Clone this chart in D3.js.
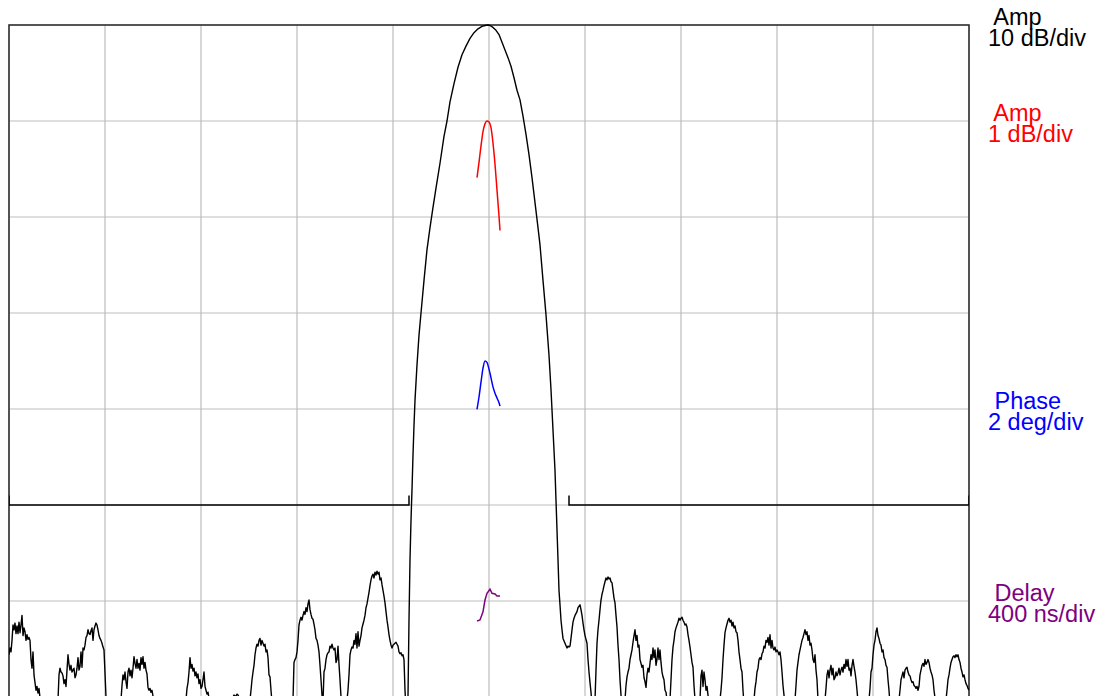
<!DOCTYPE html>
<html>
<head>
<meta charset="utf-8">
<script src="https://cdn.jsdelivr.net/npm/d3@7"></script>
<style>
body { margin: 0; background: #fff; }
svg { display: block; }
text { font-family: "Liberation Sans", Arial, sans-serif; }
</style>
</head>
<body>
<script>
// sweep: 0.01 MHz per point, frequency as offset from centre
var sweepStepMHz = 0.01;

// stopband, left of passband (starts at -4.80 MHz)
var leftSweepStartMHz = -4.80;
var leftSidelobesDb = [
  -65.6,-64.9,-65.3,-64.1,-62.5,-63.0,-62.3,-63.4,-62.6,-63.4,
  -62.2,-63.3,-62.5,-61.5,-63.6,-62.8,-63.2,-64.1,-63.5,-64.0,
  -63.8,-64.1,-66.1,-67.0,-65.3,-67.7,-68.5,-69.3,-68.9,-69.6,
  -69.1,-70.1,-70.8,-71.4,-72.0,-72.4,-72.8,-72.6,-72.2,-71.8,
  -71.6,-71.9,-72.4,-73.0,-73.4,-72.9,-72.2,-71.6,-70.9,-70.3,
  -67.7,-67.0,-67.4,-67.5,-67.8,-68.6,-68.2,-68.9,-67.2,-65.6,
  -66.6,-67.2,-66.7,-67.4,-67.2,-67.0,-68.0,-67.7,-67.0,-65.9,
  -67.2,-66.8,-65.3,-66.9,-64.9,-65.1,-64.6,-63.8,-63.6,-63.0,
  -63.4,-63.5,-63.1,-62.8,-64.1,-63.0,-62.6,-62.3,-62.5,-63.0,
  -63.6,-63.9,-64.1,-64.4,-64.8,-65.1,-67.5,-70.0,-70.8,-71.6,
  -72.2,-72.6,-73.0,-73.4,-73.6,-73.4,-73.0,-72.4,-71.9,-71.4,
  -70.9,-70.5,-70.3,-68.8,-67.7,-68.2,-67.4,-68.4,-69.1,-67.4,
  -67.0,-67.8,-67.2,-68.0,-67.0,-65.8,-66.5,-67.0,-66.1,-67.0,
  -66.5,-67.2,-65.9,-66.6,-65.8,-67.0,-66.4,-67.2,-67.6,-69.0,
  -69.3,-69.1,-69.5,-69.3,-69.9,-70.8,-71.6,-72.2,-72.6,-73.0,
  -73.4,-73.9,-74.1,-74.0,-73.6,-73.2,-73.0,-72.8,-73.2,-73.6,
  -73.9,-73.4,-73.0,-72.6,-72.2,-72.0,-72.2,-72.6,-72.4,-72.0,
  -71.6,-71.4,-71.1,-70.9,-70.7,-70.5,-70.4,-70.3,-69.1,-68.5,
  -67.4,-65.9,-67.0,-66.6,-67.3,-67.0,-67.8,-67.4,-68.0,-67.6,
  -68.6,-68.2,-69.1,-68.9,-68.2,-67.4,-68.9,-69.3,-69.7,-69.5,
  -70.1,-70.8,-71.4,-71.8,-72.0,-71.8,-71.6,-71.1,-70.8,-70.5,
  -70.5,-70.7,-70.9,-71.0,-70.9,-70.7,-70.5,-70.4,-70.3,-70.2,
  -70.2,-70.1,-70.0,-70.1,-70.0,-69.8,-69.9,-69.9,-69.7,-69.8,
  -70.0,-70.0,-70.5,-70.9,-71.4,-71.6,-71.8,-71.6,-71.1,-70.7,
  -70.5,-70.3,-69.3,-68.2,-67.4,-66.7,-65.6,-64.9,-64.5,-64.7,
  -64.1,-63.9,-64.6,-64.1,-64.4,-64.7,-64.5,-65.3,-65.1,-65.9,
  -67.7,-67.9,-69.3,-70.6,-71.4,-72.0,-72.4,-72.8,-73.0,-72.8,
  -72.4,-72.0,-71.6,-71.4,-71.1,-71.0,-70.9,-70.8,-70.7,-70.6,
  -70.5,-70.5,-70.4,-70.3,-70.3,-66.4,-66.1,-65.9,-65.3,-64.1,
  -62.5,-62.0,-61.7,-62.0,-61.5,-61.1,-61.4,-60.7,-61.1,-60.3,
  -59.9,-60.9,-61.4,-61.8,-61.9,-62.4,-63.0,-63.9,-64.1,-64.6,
  -65.3,-66.7,-68.2,-69.8,-70.5,-67.4,-67.0,-66.1,-65.6,-65.4,
  -65.3,-64.7,-64.9,-64.5,-64.9,-65.1,-64.9,-66.4,-66.1,-64.7,
  -66.6,-68.2,-70.0,-70.8,-71.4,-71.6,-71.4,-70.9,-70.3,-69.3,
  -67.7,-65.6,-65.1,-64.8,-64.9,-64.1,-64.5,-63.4,-64.9,-63.2,
  -64.7,-64.1,-63.6,-62.8,-62.4,-62.0,-61.5,-60.7,-60.3,-59.7,
  -59.1,-58.4,-57.8,-57.4,-57.2,-57.6,-57.0,-57.3,-56.9,-57.2,
  -57.0,-57.8,-57.6,-58.3,-58.9,-59.5,-60.2,-61.1,-62.0,-62.7,
  -63.5,-64.1,-64.6,-64.9,-64.6,-64.5,-64.4,-64.3,-64.5,-64.7,
  -65.3,-65.5,-65.4,-65.7,-65.6,-66.1,-69.3,-71.4,-76.6
];

// passband main lobe [MHz, dB]
var mainLobe = [
  [-0.815,-79.0],[-0.81,-69.9],[-0.80,-62.0],[-0.79,-55.7],[-0.78,-51.6],[-0.77,-48.4],
  [-0.76,-44.8],[-0.75,-41.7],[-0.74,-39.1],[-0.72,-35.4],[-0.70,-32.3],[-0.68,-30.0],
  [-0.65,-26.6],[-0.62,-23.4],[-0.59,-21.1],[-0.56,-19.0],[-0.53,-17.0],[-0.49,-14.4],
  [-0.45,-11.6],[-0.42,-10.0],[-0.39,-8.0],[-0.35,-6.1],[-0.31,-4.4],[-0.27,-3.1],
  [-0.23,-2.2],[-0.19,-1.4],[-0.15,-0.8],[-0.11,-0.4],[-0.07,-0.15],[-0.03,-0.03],
  [-0.01,0.0],[0.01,-0.05],[0.04,-0.25],[0.07,-0.55],[0.10,-1.0],[0.13,-1.8],
  [0.16,-2.6],[0.19,-3.4],[0.22,-4.3],[0.25,-5.5],[0.28,-6.8],[0.31,-7.8],
  [0.34,-9.5],[0.37,-11.4],[0.40,-13.5],[0.43,-15.9],[0.46,-18.5],[0.49,-21.1],
  [0.51,-22.9],[0.54,-26.6],[0.57,-30.2],[0.60,-34.4],[0.62,-38.0],[0.64,-42.2],
  [0.66,-46.4],[0.67,-49.5],[0.68,-52.6],[0.69,-55.7],[0.70,-58.9],[0.71,-60.4],
  [0.72,-62.0],[0.73,-63.0],[0.74,-63.9],[0.76,-64.4],[0.78,-64.9],[0.79,-64.7],
  [0.80,-64.8],[0.81,-64.7],[0.82,-63.9],[0.83,-63.0],[0.84,-62.2],[0.85,-61.8],
  [0.86,-61.5],[0.88,-61.1],[0.89,-60.7],[0.91,-60.4],[0.92,-60.9],[0.93,-61.5],
  [0.94,-62.3],[0.95,-63.0],[0.96,-63.6],[0.98,-64.4],[0.99,-66.1],[1.00,-67.4],
  [1.01,-68.5],[1.02,-69.5],[1.03,-70.8]
];

// stopband, right of passband (starts at +1.04 MHz)
var rightSweepStartMHz = 1.04;
var rightSidelobesDb = [
  -72.4,-71.6,-70.3,-67.2,-64.4,-63.0,-62.0,-60.9,-59.9,-59.3,
  -58.9,-58.4,-58.0,-57.6,-57.8,-57.5,-57.7,-57.6,-58.0,-58.1,
  -58.9,-59.7,-60.2,-61.5,-62.7,-64.6,-66.1,-68.2,-69.8,-71.1,
  -72.4,-71.6,-70.3,-68.8,-67.9,-67.4,-67.0,-66.1,-65.6,-65.1,
  -64.3,-63.6,-63.0,-64.1,-63.6,-64.8,-64.6,-66.1,-66.5,-66.9,
  -66.7,-68.0,-68.4,-69.0,-67.7,-67.0,-67.4,-66.5,-65.6,-66.1,
  -64.9,-65.9,-65.1,-66.7,-66.1,-64.9,-66.1,-65.1,-66.4,-67.4,
  -67.9,-68.2,-69.3,-69.5,-70.3,-71.4,-71.9,-70.3,-68.2,-66.1,
  -64.8,-64.1,-63.2,-62.8,-62.5,-62.2,-61.8,-62.0,-61.8,-61.7,
  -62.0,-62.2,-62.5,-62.4,-62.7,-63.5,-64.1,-64.8,-65.6,-66.4,
  -66.9,-68.8,-70.3,-71.4,-71.6,-71.6,-71.1,-70.3,-67.8,-67.2,
  -68.9,-67.4,-68.2,-69.3,-68.9,-69.8,-70.3,-71.1,-71.6,-71.8,
  -71.9,-72.0,-71.9,-71.8,-71.6,-71.4,-70.9,-70.3,-69.3,-68.0,
  -66.1,-64.6,-63.3,-62.8,-62.4,-62.0,-61.8,-62.2,-62.0,-62.6,
  -62.2,-62.8,-62.6,-63.2,-63.3,-64.1,-65.3,-66.1,-67.0,-67.4,
  -69.3,-70.8,-71.4,-71.8,-72.0,-71.9,-71.9,-71.6,-71.1,-70.8,
  -70.5,-70.3,-69.1,-68.4,-67.4,-67.0,-66.1,-65.9,-66.1,-65.5,
  -65.3,-64.7,-64.9,-64.1,-64.3,-63.8,-64.6,-63.5,-64.9,-64.1,
  -64.9,-65.1,-64.8,-65.3,-65.1,-65.3,-65.6,-65.3,-66.1,-67.4,
  -68.8,-69.8,-70.8,-71.4,-71.8,-72.0,-71.9,-71.9,-71.6,-71.1,
  -70.8,-70.5,-70.3,-68.8,-67.2,-66.4,-65.6,-65.1,-64.6,-64.1,
  -63.8,-63.4,-63.0,-63.5,-63.2,-64.1,-63.6,-64.6,-64.4,-65.1,
  -66.1,-66.4,-65.6,-67.2,-68.2,-70.3,-71.1,-71.6,-71.8,-71.9,
  -71.4,-70.7,-70.3,-69.1,-67.7,-67.2,-68.0,-67.2,-66.7,-67.7,
  -67.0,-68.2,-68.0,-67.4,-67.8,-67.5,-67.0,-67.7,-67.2,-66.9,
  -67.4,-66.6,-67.0,-66.1,-66.8,-66.1,-67.2,-67.0,-67.8,-66.7,
  -66.1,-66.8,-67.4,-68.2,-69.3,-70.5,-71.1,-71.6,-71.9,-72.0,
  -72.0,-71.9,-71.6,-71.1,-70.7,-70.5,-70.3,-69.1,-67.4,-67.0,
  -65.6,-64.6,-64.1,-63.2,-62.8,-63.6,-63.9,-64.4,-64.6,-65.3,
  -65.1,-65.9,-66.1,-66.7,-66.9,-68.2,-69.3,-70.8,-71.4,-71.7,
  -71.9,-71.9,-71.7,-71.4,-70.9,-70.5,-70.3,-69.3,-68.2,-67.8,
  -67.4,-68.0,-67.2,-67.0,-66.9,-67.4,-67.7,-67.8,-68.2,-68.5,
  -68.4,-68.8,-68.9,-69.1,-68.9,-69.3,-68.9,-67.7,-67.2,-66.7,
  -66.5,-66.8,-66.1,-66.6,-66.4,-66.1,-66.4,-67.0,-67.4,-67.7,
  -68.2,-69.3,-70.1,-70.8,-71.4,-71.7,-71.9,-71.9,-71.8,-71.6,
  -71.1,-70.8,-70.5,-70.3,-69.3,-68.2,-67.7,-67.0,-66.4,-66.1,
  -65.8,-65.7,-65.9,-65.6,-65.8,-65.6,-66.1,-66.4,-67.0,-67.4,
  -67.9,-67.7,-68.2,-68.6,-68.8,-69.1,-69.3
];

// passband detail traces [MHz, value]
var ampFineDb = [
  [-0.12,-0.59],[-0.10,-0.43],[-0.08,-0.26],[-0.06,-0.11],[-0.04,-0.03],[-0.02,0.00],
  [0.00,-0.01],[0.02,-0.07],[0.04,-0.23],[0.06,-0.45],[0.08,-0.72],[0.10,-0.99],[0.11,-1.14]
];
var phaseDeg = [
  [-0.12,-0.01],[-0.10,0.25],[-0.08,0.56],[-0.06,0.85],[-0.04,1.00],[-0.02,0.97],
  [0.00,0.83],[0.02,0.65],[0.04,0.46],[0.06,0.33],[0.08,0.23],[0.10,0.13],[0.11,0.06]
];
var delayNs = [
  [-0.12,-83],[-0.09,-79],[-0.06,-45],[-0.04,4],[-0.02,32],[0.01,49],
  [0.03,32],[0.06,29],[0.08,21],[0.11,21]
];

// stopband limit mask [MHz, dB]
var maskLeft = [[-4.80,-49],[-4.80,-50],[-0.80,-50],[-0.80,-49]];
var maskRight = [[0.80,-49],[0.80,-50],[4.80,-50],[4.80,-49]];

var labelNames = ["Amp", "Amp", "Phase", "Delay"];
var labelScales = ["10 dB/div", "1 dB/div", "2 deg/div", "400 ns/div"];

/*
 chart
*/
var width = 1101,
    height = 696;
var plotLeft = 9, plotTop = 25, plotW = 960, plotH = 960;

var svg = d3.select("body").append("svg")
    .attr("width", width)
    .attr("height", height);

var x = d3.scaleLinear().domain([-4.8, 4.8]).range([plotLeft, plotLeft + plotW]);
var yAmp = d3.scaleLinear().domain([0, -100]).range([plotTop, plotTop + plotH]);
var yFine = d3.scaleLinear().domain([1, -9]).range([plotTop, plotTop + plotH]);
var yPhase = d3.scaleLinear().domain([8, -12]).range([plotTop, plotTop + plotH]);
var yDelay = d3.scaleLinear().domain([2400, -1600]).range([plotTop, plotTop + plotH]);

svg.append("clipPath").attr("id", "plot")
  .append("rect")
    .attr("x", plotLeft).attr("y", plotTop - 1)
    .attr("width", plotW).attr("height", plotH + 1);

// grid
var xGrid = d3.range(11).map(function(i) { return -4.8 + i * 0.96; });
var yGrid = d3.range(0, -101, -10);

svg.append("g")
    .attr("class", "grid")
    .attr("transform", "translate(0," + plotTop + ")")
    .call(d3.axisTop(x).tickValues(xGrid).tickSize(-plotH).tickFormat("").offset(0));
svg.append("g")
    .attr("class", "grid")
    .attr("transform", "translate(" + plotLeft + ",0)")
    .call(d3.axisLeft(yAmp).tickValues(yGrid).tickSize(-plotW).tickFormat("").offset(0));
svg.selectAll(".grid .domain").remove();
svg.selectAll(".grid line")
    .attr("stroke", "#bdbdbd")
    .attr("stroke-width", 1.2);

svg.append("rect")
    .attr("x", plotLeft).attr("y", plotTop)
    .attr("width", plotW).attr("height", plotH)
    .attr("fill", "none")
    .attr("stroke", "#333")
    .attr("stroke-width", 1.6);

// build the wideband sweep
var sweep = leftSidelobesDb.map(function(v, i) { return [leftSweepStartMHz + i * sweepStepMHz, v]; })
    .concat(mainLobe)
    .concat(rightSidelobesDb.map(function(v, i) { return [rightSweepStartMHz + i * sweepStepMHz, v]; }));

var traces = svg.append("g").attr("clip-path", "url(#plot)");

var ampLine = d3.line().x(function(d) { return x(d[0]); }).y(function(d) { return yAmp(d[1]); });

[maskLeft, maskRight].forEach(function(m) {
  traces.append("path")
      .datum(m)
      .attr("fill", "none")
      .attr("stroke", "#000")
      .attr("stroke-width", 1.5)
      .attr("d", ampLine);
});

traces.append("path")
    .datum(sweep)
    .attr("fill", "none")
    .attr("stroke", "#000")
    .attr("stroke-width", 1.4)
    .attr("stroke-linejoin", "round")
    .attr("d", ampLine);

var fine = [
  {data: ampFineDb, y: yFine, color: "#ff0000"},
  {data: phaseDeg, y: yPhase, color: "#0000ff"},
  {data: delayNs, y: yDelay, color: "#800080"}
];
fine.forEach(function(t) {
  traces.append("path")
      .datum(t.data)
      .attr("fill", "none")
      .attr("stroke", t.color)
      .attr("stroke-width", 1.5)
      .attr("d", d3.line()
          .curve(t.data === delayNs ? d3.curveLinear : d3.curveMonotoneX)
          .x(function(d) { return x(d[0]); })
          .y(function(d) { return t.y(d[1]); }));
});

// scale labels at each trace's reference line
var labelY = [yAmp(0), yFine(0), yPhase(0), yDelay(0)];
var labelColor = ["#000", "#ff0000", "#0000ff", "#800080"];

labelNames.forEach(function(name, i) {
  var t = svg.append("text")
      .attr("x", 988)
      .attr("y", labelY[i])
      .attr("fill", labelColor[i])
      .style("font-size", "23.5px")
      .style("white-space", "pre");
  t.append("tspan").attr("x", 988).text(" " + name);
  t.append("tspan").attr("x", 988).attr("dy", 20.5).text(labelScales[i]);
});
</script>
</body>
</html>
